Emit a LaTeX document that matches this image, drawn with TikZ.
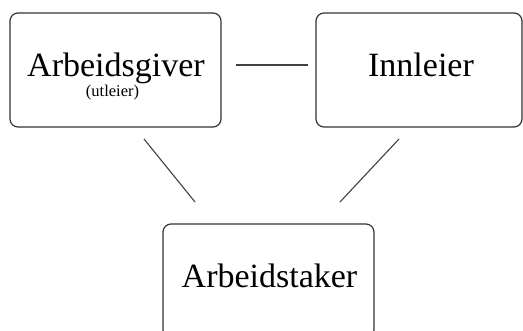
\documentclass[tikz,border=0pt]{standalone}
\usepackage{fontspec}
\setmainfont{Liberation Serif}
\begin{document}
\begin{tikzpicture}[x=1pt,y=1pt,
  box/.style={draw=black!80,line width=1.2pt,rounded corners=8pt,minimum width=#1,minimum height=114pt,inner sep=0pt},
  link/.style={draw=black!75,line width=1.1pt},
  big/.style={font=\fontsize{34}{37}\selectfont,anchor=base,inner sep=0pt},
  small/.style={font=\fontsize{16.5}{18}\selectfont,anchor=base,inner sep=0pt}]
\useasboundingbox (0,0) rectangle (523,330);
\node[box=211pt] (ag) at (115.5,260) {};
\node[box=206pt] (inn) at (419,260) {};
\node[box=211pt] (at) at (268.5,49) {};
\node[big] (tag) at (116,253) {Arbeidsgiver};
\node[small] (tut) at (112.5,233) {(utleier)};
\node[big] (tinn) at (421,253) {Innleier};
\node[big] (tat) at (269.5,42) {Arbeidstaker};
\coordinate (c1) at (236,265);
\coordinate (c2) at (308,265);
\coordinate (c3) at (144,191);
\coordinate (c4) at (195,128);
\coordinate (c5) at (399,191);
\coordinate (c6) at (340,128);
\draw[link] (c1) -- (c2);
\draw[link] (c3) -- (c4);
\draw[link] (c5) -- (c6);
\end{tikzpicture}
\end{document}
